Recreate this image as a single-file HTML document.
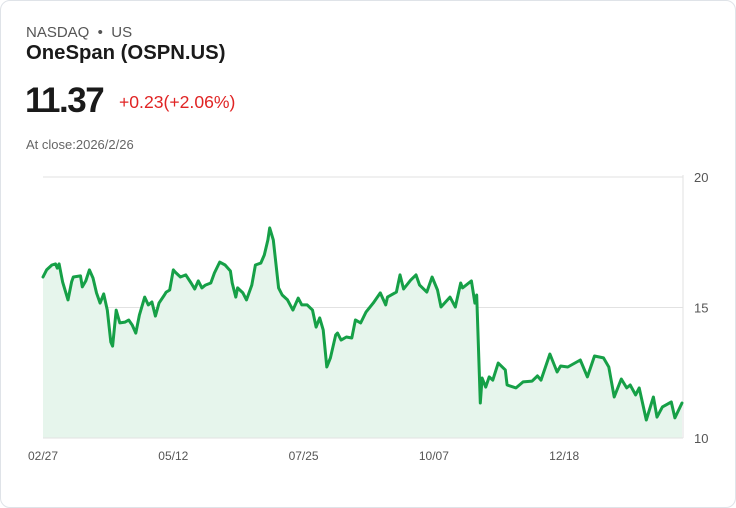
<!DOCTYPE html>
<html><head><meta charset="utf-8"><style>
body{margin:0;background:#fff;font-family:"Liberation Sans",sans-serif;}
#card{position:absolute;left:0;top:0;width:734px;height:506px;border:1px solid #dfe3e8;border-radius:10px;background:#fff;}
.t{position:absolute;white-space:nowrap;}
</style></head><body>
<div id="card">
<div class="t" style="left:25px;top:23px;font-size:15px;color:#555;">NASDAQ &nbsp;•&nbsp; US</div>
<div class="t" style="left:25px;top:41px;font-size:20.3px;font-weight:bold;color:#1a1a1a;">OneSpan (OSPN.US)</div>
<div class="t" style="left:24px;top:80px;font-size:35px;font-weight:bold;color:#1a1a1a;letter-spacing:-1.5px;">11.37</div>
<div class="t" style="left:118px;top:91px;font-size:17.6px;color:#e02424;">+0.23(+2.06%)</div>
<div class="t" style="left:25px;top:136px;font-size:13px;color:#666;">At close:2026/2/26</div>
<svg id="chart" width="736" height="508" style="position:absolute;left:-1px;top:-1px;"></svg>
</div>
<script>
const days=[0,2,5,7,8,9,11,14,16,17,21,22,24,26,28,30,32,34,36,38,39,41,43,46,48,50,52,54,57,59,61,63,65,68,69,71,73,74,77,80,83,85,87,89,91,94,96,99,102,105,106,108,109,112,114,117,119,122,124,126,127,129,132,134,137,140,143,145,148,151,153,155,157,159,161,164,165,167,170,173,175,178,181,185,189,192,193,198,200,202,206,209,211,215,218,221,223,228,231,234,235,240,242,243,245,246,248,250,252,255,259,260,265,269,274,277,279,284,288,290,294,301,305,309,314,317,320,324,327,329,332,334,338,342,344,347,352,354,358];
const prices=[16.17,16.44,16.63,16.67,16.51,16.67,15.98,15.29,15.98,16.17,16.21,15.79,16.02,16.44,16.13,15.56,15.17,15.52,14.90,13.68,13.52,14.90,14.41,14.44,14.52,14.33,14.02,14.71,15.40,15.10,15.21,14.67,15.17,15.48,15.59,15.67,16.44,16.36,16.17,16.25,15.94,15.71,16.02,15.75,15.86,15.94,16.32,16.74,16.63,16.40,15.94,15.40,15.75,15.56,15.29,15.86,16.63,16.70,17.01,17.59,18.05,17.59,15.75,15.48,15.29,14.90,15.36,15.10,15.10,14.90,14.25,14.60,14.14,12.72,13.07,13.95,14.02,13.75,13.87,13.83,14.52,14.41,14.83,15.17,15.56,15.10,15.40,15.59,16.25,15.71,16.05,16.25,15.86,15.59,16.17,15.67,15.02,15.40,15.02,15.94,15.75,16.02,15.17,15.48,11.34,12.30,11.95,12.34,12.22,12.87,12.61,12.03,11.92,12.15,12.18,12.38,12.22,13.22,12.53,12.76,12.72,12.99,12.34,13.14,13.07,12.72,11.57,12.26,11.92,12.03,11.65,11.92,10.69,11.57,10.80,11.19,11.38,10.77,11.34];
const yTicks=[20,15,10];
const xTickLabels=["02/27","05/12","07/25","10/07","12/18"];
const xTickDays=[0,73,146,219,292];
const X0=43,X1=682,Y0=438,Y1=177,DMAX=358,VMIN=10,VMAX=20;
const sx=d=>X0+(d/DMAX)*(X1-X0);
const sy=v=>Y0-(v-VMIN)/(VMAX-VMIN)*(Y0-Y1);
const svg=document.getElementById('chart');const NS='http://www.w3.org/2000/svg';
function mk(t,a){const e=document.createElementNS(NS,t);for(const k in a)e.setAttribute(k,a[k]);svg.appendChild(e);return e;}
yTicks.forEach(v=>{
 const l=mk('line',{x1:X0,x2:X1+1,y1:sy(v),y2:sy(v),stroke:'#e2e2e2','stroke-width':1});
 
 
 const t=mk('text',{x:694,y:sy(v)+5,'font-size':13,fill:'#555','font-family':'Liberation Sans, sans-serif'});
 t.textContent=v;
 
 
});
const ax=mk('line',{x1:X1+1,x2:X1+1,y1:Y1-2,y2:Y0,stroke:'#e2e2e2','stroke-width':1});


const n=Math.min(days.length,prices.length);
let d='';for(let i=0;i<n;i++)d+=(i?'L':'M')+sx(days[i]).toFixed(1)+','+sy(prices[i]).toFixed(1);
const area=mk('path',{d:d+'L'+sx(days[n-1])+','+Y0+'L'+sx(days[0])+','+Y0+'Z',fill:'#e6f5ec'});


const base=mk('line',{x1:X0,x2:X1+1,y1:Y0,y2:Y0,stroke:'#e2e2e2','stroke-width':1});


const line=mk('path',{d:d,fill:'none',stroke:'#16a047','stroke-width':3,'stroke-linejoin':'round','stroke-linecap':'round'});


xTickLabels.forEach((s,i)=>{
 const t=mk('text',{x:sx(xTickDays[i]),y:460,'font-size':12,fill:'#555','text-anchor':'middle','font-family':'Liberation Sans, sans-serif'});
 t.textContent=s;
 
 
});
</script>
</body></html>
